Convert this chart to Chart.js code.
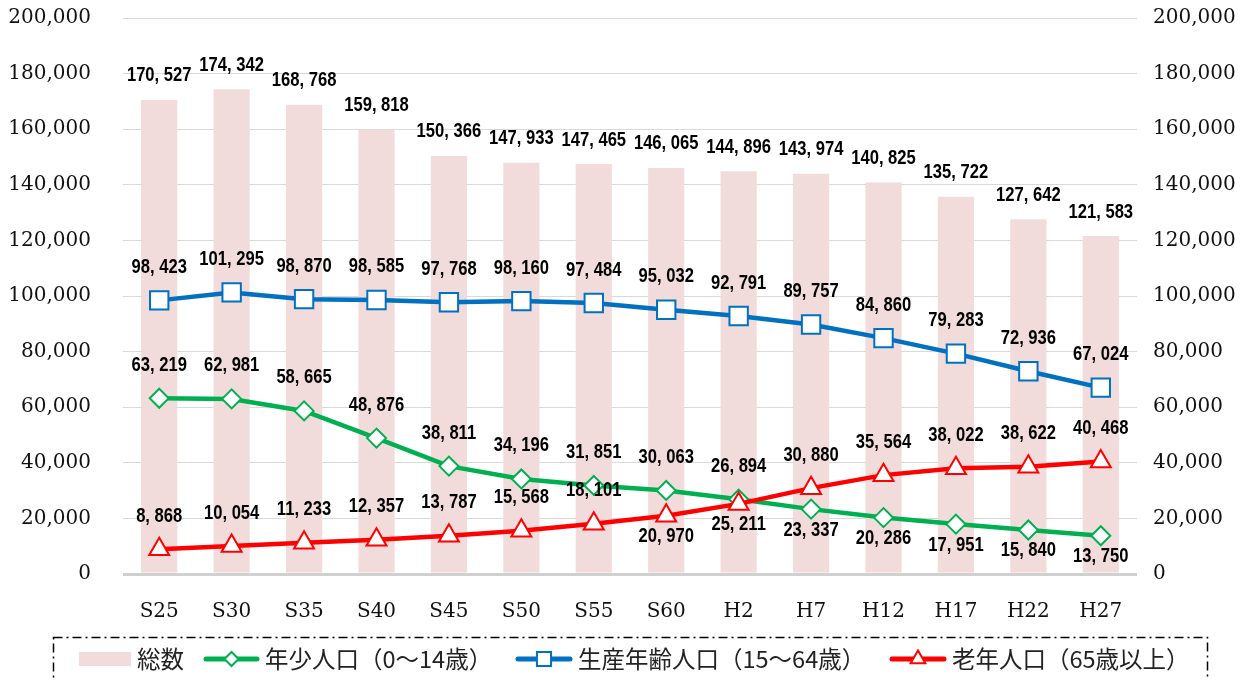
<!DOCTYPE html>
<html>
<head>
<meta charset="utf-8">
<script src="https://cdn.jsdelivr.net/npm/chart.js@4.4.1/dist/chart.umd.min.js"></script>
<style>
html,body{margin:0;padding:0;background:#fff;}
canvas{display:block;}
</style>
</head>
<body>
<canvas id="c" width="1256" height="680"></canvas>
<script>
const categories = ['S25','S30','S35','S40','S45','S50','S55','S60','H2','H7','H12','H17','H22','H27'];
const totalPop   = [170527,174342,168768,159818,150366,147933,147465,146065,144896,143974,140825,135722,127642,121583];
const workingPop = [98423,101295,98870,98585,97768,98160,97484,95032,92791,89757,84860,79283,72936,67024];
const youthPop   = [63219,62981,58665,48876,38811,34196,31851,30063,26894,23337,20286,17951,15840,13750];
const elderPop   = [8868,10054,11233,12357,13787,15568,18101,20970,25211,30880,35564,38022,38622,40468];
const yTickValues = [0,20000,40000,60000,80000,100000,120000,140000,160000,180000,200000];
const seriesNames = ['総数','年少人口（0〜14歳）','生産年齢人口（15〜64歳）','老年人口（65歳以上）'];
// label placement: 'a' above point, 'b' below point
const youthLabelPos = ['a','a','a','a','a','a','a','a','a','b','b','b','b','b'];
const elderLabelPos = ['a','a','a','a','a','a','a','b','b','a','a','a','a','a'];

const fmtAxis = v => Number(v).toLocaleString('en-US');
const fmtLabel = v => Number(v).toLocaleString('en-US').replace(/,/g, ', ');

const tickFont = {family: '"DejaVu Serif", serif', size: 20};

const valueLabels = {
  id: 'valueLabels',
  afterDatasetsDraw(chart) {
    const ctx = chart.ctx;
    chart.data.datasets.forEach((ds, i) => {
      const meta = chart.getDatasetMeta(i);
      meta.data.forEach((el, j) => {
        const txt = fmtLabel(ds.data[j]);
        let y;
        if (ds.type === 'bar') {
          y = el.y - 24;
        } else {
          const pos = ds.labelPos ? ds.labelPos[j] : 'a';
          y = pos === 'b' ? el.y + 21 : el.y - 33;
        }
        ctx.save();
        ctx.translate(el.x, y);
        ctx.scale(0.83, 1);
        ctx.font = 'bold 20px "Liberation Sans", Arial, sans-serif';
        ctx.textAlign = 'center';
        ctx.textBaseline = 'middle';
        ctx.fillStyle = '#000';
        ctx.fillText(txt, 0, 0);
        ctx.restore();
      });
    });
  }
};

function drawMarker(ctx, style, r, x, y, color) {
  ctx.save();
  ctx.fillStyle = '#fff';
  ctx.strokeStyle = color;
  ctx.lineWidth = 2;
  if (Chart.helpers && Chart.helpers.drawPoint) {
    Chart.helpers.drawPoint(ctx, {pointStyle: style, radius: r, rotation: 0, borderWidth: 2}, x, y);
  }
  ctx.restore();
}

const legendBox = {
  id: 'legendBox',
  afterDraw(chart) {
    const ctx = chart.ctx;
    ctx.save();
    ctx.strokeStyle = '#000';
    ctx.lineWidth = 1.5;
    ctx.setLineDash([9, 4, 2, 4]);
    ctx.strokeRect(53.5, 637.5, 1154, 60);
    ctx.setLineDash([]);
    const ds = chart.data.datasets;
    const cy = 659;
    const items = [
      {d: ds[0], x: 79, w: 52},
      {d: ds[1], x: 204, w: 55},
      {d: ds[2], x: 516, w: 56},
      {d: ds[3], x: 890, w: 56}
    ];
    ctx.font = '23.5px "Noto Sans CJK JP", sans-serif';
    ctx.textBaseline = 'middle';
    ctx.textAlign = 'left';
    items.forEach((it, k) => {
      const d = it.d;
      if (d.type === 'bar') {
        ctx.fillStyle = d.backgroundColor;
        ctx.fillRect(it.x, cy - 7, it.w, 14);
      } else {
        ctx.strokeStyle = d.borderColor;
        ctx.lineWidth = 5;
        ctx.lineCap = 'round';
        ctx.beginPath();
        ctx.moveTo(it.x + 2, cy);
        ctx.lineTo(it.x + it.w - 2, cy);
        ctx.stroke();
        drawMarker(ctx, d.pointStyle, d.legendRadius, it.x + it.w / 2, cy, d.borderColor);
      }
      ctx.fillStyle = '#222';
      ctx.fillText(seriesNames[k], it.x + it.w + 6, cy);
    });
    ctx.restore();
  }
};

const yAxisCommon = {
  min: 0, max: 200000,
  afterBuildTicks(scale) { scale.ticks = yTickValues.map(v => ({value: v})); },
  ticks: {font: tickFont, color: '#111', callback: v => fmtAxis(v)},
  border: {display: false}
};

new Chart(document.getElementById('c'), {
  data: {
    labels: categories,
    datasets: [
      {type: 'bar', label: seriesNames[0], data: totalPop, backgroundColor: '#F2DCDB',
       barPercentage: 0.5, categoryPercentage: 1, order: 10, yAxisID: 'y'},
      {type: 'line', label: seriesNames[1], data: youthPop, borderColor: '#00B050', borderWidth: 4.5,
       pointStyle: 'rectRot', pointRadius: 9.5, pointBorderWidth: 2, pointBackgroundColor: '#fff',
       pointBorderColor: '#00B050', legendRadius: 7, tension: 0, order: 3, yAxisID: 'y', labelPos: youthLabelPos},
      {type: 'line', label: seriesNames[2], data: workingPop, borderColor: '#0070C0', borderWidth: 4.5,
       pointStyle: 'rect', pointRadius: 13, pointBorderWidth: 2, pointBackgroundColor: '#fff',
       pointBorderColor: '#0070C0', legendRadius: 10, tension: 0, order: 2, yAxisID: 'y'},
      {type: 'line', label: seriesNames[3], data: elderPop, borderColor: '#FF0000', borderWidth: 4.5,
       pointStyle: 'triangle', pointRadius: 11.5, pointBorderWidth: 2, pointBackgroundColor: '#fff',
       pointBorderColor: '#FF0000', legendRadius: 8.5, tension: 0, order: 1, yAxisID: 'y', labelPos: elderLabelPos}
    ]
  },
  options: {
    responsive: false,
    animation: false,
    layout: {padding: {top: 18, bottom: 0, left: 0, right: 0}},
    plugins: {legend: {display: false}, tooltip: {enabled: false}},
    scales: {
      x: {
        grid: {display: false},
        border: {display: false},
        ticks: {font: tickFont, color: '#111', padding: 18, maxRotation: 0},
        afterFit(s) { s.height = 106; }
      },
      y: Object.assign({}, yAxisCommon, {
        position: 'left',
        ticks: Object.assign({}, yAxisCommon.ticks, {padding: 32}),
        grid: {
          drawTicks: false,
          color: c => (c.tick && c.tick.value === 0) ? '#d0d0d0' : '#d9d9d9',
          lineWidth: c => (c.tick && c.tick.value === 0) ? 3 : 1
        },
        afterFit(s) { s.width = 123; s.paddingTop = 10; s.paddingBottom = 10; }
      }),
      y2: Object.assign({}, yAxisCommon, {
        position: 'right',
        ticks: Object.assign({}, yAxisCommon.ticks, {padding: 16}),
        grid: {display: false, drawTicks: false},
        afterFit(s) { s.width = 119; s.paddingTop = 10; s.paddingBottom = 10; }
      })
    }
  },
  plugins: [valueLabels, legendBox]
});
</script>
</body>
</html>
